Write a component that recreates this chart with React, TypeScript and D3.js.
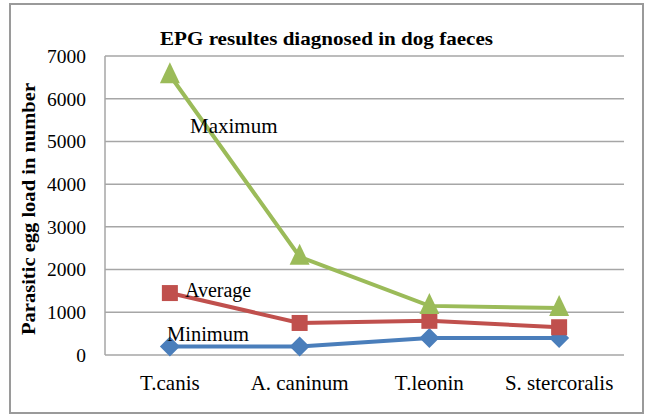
import React from "react";
import * as d3 from "d3";

const categories = ["T.canis", "A. caninum", "T.leonin", "S. stercoralis"];
const minimumValues = [200, 200, 400, 400];
const averageValues = [1450, 750, 800, 650];
const maximumValues = [6550, 2300, 1150, 1100];
const yTicks = [0, 1000, 2000, 3000, 4000, 5000, 6000, 7000];
const titleText = "EPG resultes diagnosed in dog faeces";
const yAxisLabel = "Parasitic egg load in number";

const W = 649;
const H = 414;
const plot = { left: 105, right: 624, top: 56, bottom: 355 };
const FONT = "Liberation Serif";

export default function App() {
  const x = d3.scaleBand<string>().domain(categories).range([plot.left, plot.right]);
  const y = d3.scaleLinear().domain([0, 7000]).range([plot.bottom, plot.top]);
  const cx = (c: string) => (x(c) as number) + x.bandwidth() / 2;
  const line = d3
    .line<number>()
    .x((_, i) => cx(categories[i]))
    .y((d) => y(d));

  const series = [
    { name: "Minimum", values: minimumValues, color: "#4A7EBB", shape: "diamond" },
    { name: "Average", values: averageValues, color: "#C0504D", shape: "square" },
    { name: "Maximum", values: maximumValues, color: "#9BBB59", shape: "triangle" },
  ];

  const marker = (shape: string, px: number, py: number, color: string, key: string) => {
    if (shape === "diamond") {
      const s = 10;
      return <path key={key} d={`M${px},${py - s}L${px + s},${py}L${px},${py + s}L${px - s},${py}Z`} fill={color} />;
    }
    if (shape === "square") {
      const s = 8;
      return <rect key={key} x={px - s} y={py - s} width={2 * s} height={2 * s} fill={color} />;
    }
    const s = 10;
    return <path key={key} d={`M${px},${py - s - 3}L${px + s},${py + s - 2}L${px - s},${py + s - 2}Z`} fill={color} />;
  };

  const txt = (size: number, bold = false) => ({ fontFamily: FONT, fontSize: size, fontWeight: bold ? 700 : 400 });

  return (
    <svg width={W} height={H} style={{ position: "absolute", left: 0, top: 0 }}>
      <rect x={0} y={0} width={W} height={H} fill="#fff" />
      <rect x={10} y={4} width={633} height={409} fill="#fff" stroke="#9a9a9a" strokeWidth={2} />
      {yTicks.map((t) => (
        <g key={t}>
          <line x1={plot.left} x2={plot.right} y1={y(t)} y2={y(t)} stroke="#a6a6a6" strokeWidth={1.5} />
          <text x={plot.left - 19} y={y(t)} dy="0.35em" textAnchor="end" style={txt(19.5)} fill="#000">
            {t}
          </text>
        </g>
      ))}
      <line x1={plot.left} x2={plot.left} y1={plot.top} y2={plot.bottom} stroke="#a6a6a6" strokeWidth={1.5} />
      {categories.map((c) => (
        <text key={c} x={cx(c)} y={390} textAnchor="middle" style={txt(21)} fill="#000">
          {c}
        </text>
      ))}
      {series.map((s) => (
        <g key={s.name}>
          <path d={line(s.values) as string} fill="none" stroke={s.color} strokeWidth={4} />
          {s.values.map((v, i) => marker(s.shape, cx(categories[i]), y(v), s.color, s.name + i))}
        </g>
      ))}
      <text x={190} y={133} style={txt(21)} fill="#000">Maximum</text>
      <text x={185} y={297} style={txt(20)} fill="#000">Average</text>
      <text x={167} y={341} style={txt(20.5)} fill="#000">Minimum</text>
      <text x={160} y={45} textLength={333} lengthAdjust="spacingAndGlyphs" style={txt(19, true)} fill="#000">
        {titleText}
      </text>
      <text
        transform={`translate(35,335) rotate(-90)`}
        textLength={252}
        lengthAdjust="spacingAndGlyphs"
        style={txt(19, true)}
        fill="#000"
      >
        {yAxisLabel}
      </text>
    </svg>
  );
}
